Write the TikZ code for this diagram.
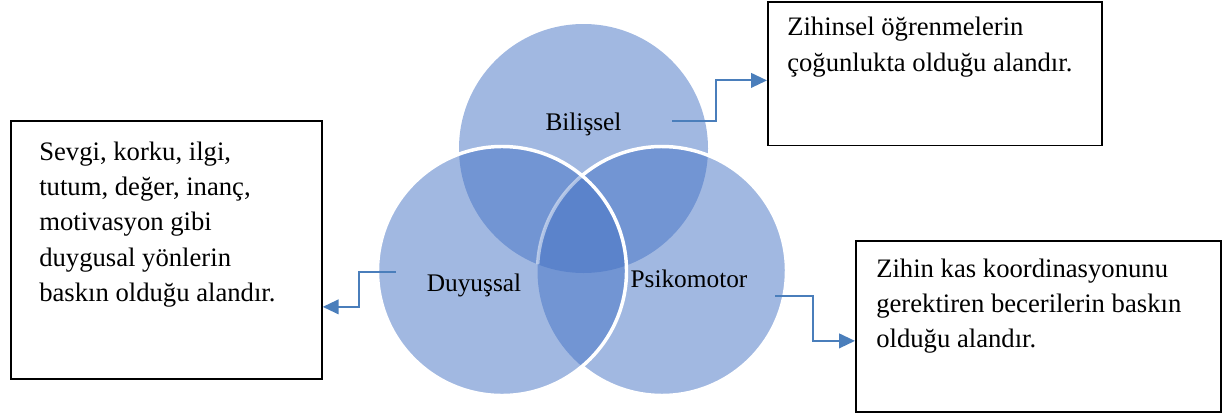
\documentclass[tikz,border=0pt]{standalone}
\usepackage{fontspec}
\setmainfont{Liberation Serif}
\usetikzlibrary{arrows.meta}
\definecolor{vennblue}{RGB}{68,114,196}
\definecolor{linkblue}{RGB}{74,126,187}
\begin{document}
\begin{tikzpicture}[x=0.75pt,y=-0.75pt]
        \tikzstyle{vennarea}=[circle,fill=vennblue,fill opacity=0.5,inner sep=0pt,minimum size=186.75pt]
        \tikzstyle{rim}=[draw=white,line width=2.6pt]
        \tikzstyle{circlabel}=[font=\fontsize{19}{23}\selectfont,inner sep=0pt,anchor=base]
        \tikzstyle{descbox}=[draw=black,line width=1.3pt,inner sep=0pt,anchor=north west]
        \tikzstyle{desctext}=[font=\fontsize{20}{26.6}\selectfont,inner sep=0pt,anchor=base west]
        \tikzstyle{link}=[draw=linkblue,line width=1.5pt,-{Triangle[length=12pt,width=11pt]}]
        \useasboundingbox (0,0) rectangle (1224,414);
        \begin{scope}
           \node [vennarea] (bil) at (583.5,148.5) {};
           \node [vennarea] (duy) at (502,271) {};
           \node [vennarea] (psi) at (662,271) {};
           \draw [rim] (psi.center) ++(-130:124.5) arc[start angle=-130,end angle=130,radius=124.5];
           \draw [rim,draw opacity=0.5] (psi.center) ++(183.1:124.5) arc[start angle=183.1,end angle=230,radius=124.5];
           \draw [rim] (duy.center) circle (124.5);
           \node [circlabel] (biltxt) at (583.5,130) {Bilişsel};
           \node [circlabel] (duytxt) at (474,291) {Duyuşsal};
           \node [circlabel] (psitxt) at (689,287) {Psikomotor};
        \end{scope}
        \begin{scope}
           \node [descbox,minimum width=250.5pt,minimum height=107.25pt] (bilbox) at (767,1.5) {};
           \node [descbox,minimum width=233.25pt,minimum height=193.5pt] (duybox) at (10,120) {};
           \node [descbox,minimum width=273.75pt,minimum height=128.25pt] (psibox) at (855,240) {};
           \node [desctext] (bilnote) at (787,36) {\parbox[t]{240pt}{Zihinsel öğrenmelerin\\çoğunlukta olduğu alandır.}};
           \node [desctext] (duynote) at (39,160) {\parbox[t]{220pt}{Sevgi, korku, ilgi,\\tutum, değer, inanç,\\motivasyon gibi\\duygusal yönlerin\\baskın olduğu alandır.}};
           \node [desctext] (psinote) at (876,277) {\parbox[t]{260pt}{Zihin kas koordinasyonunu\\gerektiren becerilerin baskın\\olduğu alandır.}};
        \end{scope}
        \coordinate (bilout) at (672,121);
        \coordinate (duyout) at (396,272);
        \coordinate (psiout) at (775,296);
        \draw [link] (bilout) -- ++(44,0) |- ([yshift=-4.9pt]bilbox.west);
        \draw [link] (duyout) -- ++(-37,0) |- ([yshift=-42.75pt]duybox.east);
        \draw [link] (psiout) -- ++(38,0) |- ([yshift=-10.9pt]psibox.west);
      \end{tikzpicture}
\end{document}
